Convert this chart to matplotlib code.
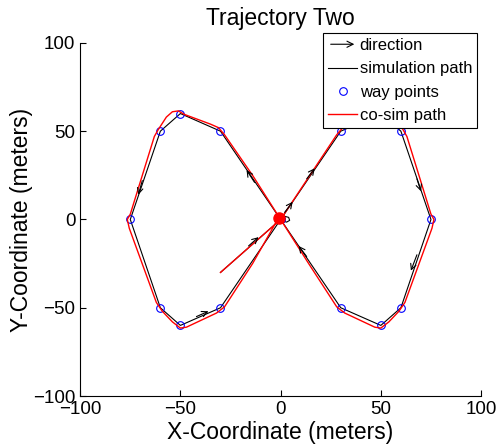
import matplotlib
matplotlib.use("Agg")
import matplotlib.pyplot as plt
from matplotlib.legend_handler import HandlerBase
from matplotlib.lines import Line2D
from matplotlib.patches import FancyArrowPatch


# Way points (blue circles)
WAY_X = [0, 30, 50, 60, 75, 60, 50, 30, 0, -30, -50, -60, -75, -60, -50, -30]
WAY_Y = [0, 50, 60, 50, 0, -50, -60, -50, 0, 50, 60, 50, 0, -50, -60, -50]

# Simulation path (black)
SIM_X = [-30, 0, 30, 50, 60, 75, 60, 50, 30, 0, -30, -50, -60, -75, -60, -50, -30, 0,
         2, 4, 4.5, 3, 1, 0.5]
SIM_Y = [-30, 0, 50, 60, 50, 0, -50, -60, -50, 0, 50, 60, 50, 0, -50, -60, -50, 0,
         1.8, 1.2, -0.5, -1.5, -0.8, 0]

# Co-sim path (red)
COSIM_X = [-30, -15, 0, 14, 28, 31, 35, 48, 51, 54, 57, 61, 63, 75, 76.5, 75.5, 62, 59,
           54, 50, 47, 32, 28, 14, 0, -14, -28, -31, -35, -48, -51, -54, -57, -61, -63,
           -75, -76.5, -75.5, -62, -59, -54, -50, -47, -32, -28, -14, -1]
COSIM_Y = [-30, -15, 0, 24, 48, 52, 54, 59.5, 61.5, 61, 58, 51, 47, 3, 0, -5, -47, -52,
           -58, -61.5, -61, -53, -49.5, -25, 0, 25, 48, 52, 54, 59.5, 61.5, 61, 58, 51,
           47, 3, 0, -5, -47, -52, -58, -61.5, -61, -53, -49.5, -25, 1]

# Direction arrows: start point and end point
ARROW_START = [(-16, -15), (2, 4), (13, 23), (68, 23), (68, -20), (13, -21), (-13, 21),
               (-69, 22), (-42, -55)]
ARROW_END = [(-11, -10), (6, 10), (17, 29), (70, 16), (65, -29), (9, -15), (-17, 28),
             (-71, 14), (-36, -52)]

TICKS = [-100, -50, 0, 50, 100]


class HandlerArrow(HandlerBase):
    def create_artists(self, legend, orig_handle, xdescent, ydescent, width, height,
                       fontsize, trans):
        y = height / 2 - ydescent
        p = FancyArrowPatch((-xdescent, y), (width - xdescent, y), arrowstyle="->",
                            mutation_scale=11, lw=0.8, color="k", transform=trans)
        return [p]


plt.rcParams["font.family"] = ["Liberation Sans", "DejaVu Sans"]

fig = plt.figure(figsize=(4.98, 4.47), dpi=100)
ax = fig.add_axes([0.161, 0.114, 0.805, 0.79])

ax.plot(SIM_X, SIM_Y, color="k", lw=0.8, zorder=2)
ax.plot(WAY_X, WAY_Y, "o", color="b", mfc="none", ms=5.5, mew=0.8, zorder=3)
ax.plot(COSIM_X, COSIM_Y, color="r", lw=1.0, zorder=4)
ax.plot(COSIM_X[-1], COSIM_Y[-1], "o", color="r", ms=8, zorder=5)

for (x0, y0), (x1, y1) in zip(ARROW_START, ARROW_END):
    ax.annotate("", xy=(x1, y1), xytext=(x0, y0),
                arrowprops=dict(arrowstyle="->", color="k", lw=0.8, shrinkA=0, shrinkB=0,
                                mutation_scale=10), zorder=6)

ax.set_xlim(-100, 100)
ax.set_ylim(-100, 100)
ax.set_xticks(TICKS)
ax.set_yticks(TICKS)
ax.tick_params(direction="in", length=4, labelsize=13.5, width=0.8)
for s in ["top", "right"]:
    ax.spines[s].set_visible(False)
for s in ["left", "bottom"]:
    ax.spines[s].set_linewidth(0.8)

ax.set_title("Trajectory Two", fontsize=16.5, pad=13)
ax.set_xlabel("X-Coordinate (meters)", fontsize=16.5, labelpad=2)
ax.set_ylabel("Y-Coordinate (meters)", fontsize=16.5, labelpad=0)

arrow_proxy = FancyArrowPatch((0, 0), (1, 0))
handles = [
    arrow_proxy,
    Line2D([], [], color="k", lw=0.8),
    Line2D([], [], ls="none", marker="o", color="b", mfc="none", ms=5.5, mew=0.8),
    Line2D([], [], color="r", lw=1.0),
]
labels = ["direction", "simulation path", "way points", "co-sim path"]
leg = fig.legend(handles, labels, loc="upper right", bbox_to_anchor=(0.958, 0.926),
                 fontsize=12, handlelength=1.75, handletextpad=0.15, labelspacing=0.5,
                 borderpad=0.3, borderaxespad=0, fancybox=False, framealpha=1,
                 edgecolor="k", handler_map={FancyArrowPatch: HandlerArrow()})
leg.get_frame().set_linewidth(0.8)

fig.savefig("out.png", dpi=100)
